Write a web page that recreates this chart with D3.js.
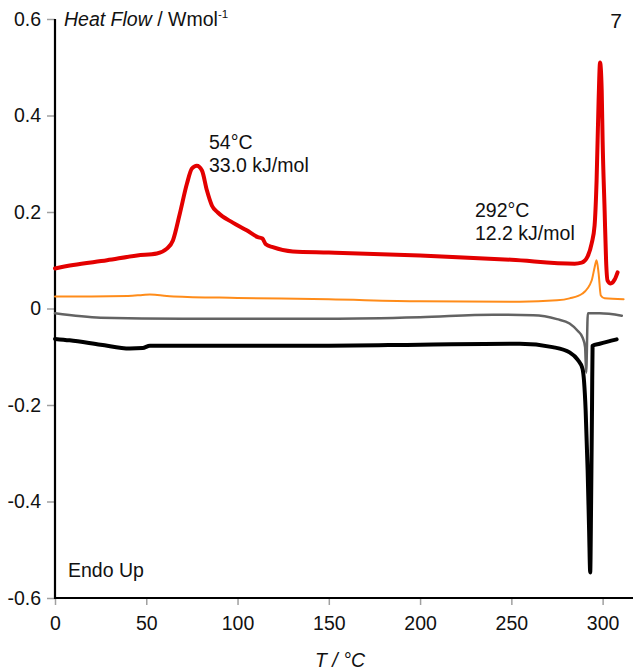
<!DOCTYPE html>
<html>
<head>
<meta charset="utf-8">
<script src="https://cdn.jsdelivr.net/npm/d3@7"></script>
<style>
  html, body { margin: 0; padding: 0; background: #fff; }
  svg { display: block; font-family: "Liberation Sans", Arial, sans-serif; }
</style>
</head>
<body>
<svg id="chart" width="633" height="672"></svg>
<script>
// ---- data (T in °C, heat flow in W/mol) ----
const xTicks = [0, 50, 100, 150, 200, 250, 300];
const yTicks = [-0.6, -0.4, -0.2, 0, 0.2, 0.4, 0.6];
const yTickLabels = ["-0.6", "-0.4", "-0.2", "0", "0.2", "0.4", "0.6"];

const redT = [0, 10, 28.5, 45, 55.8, 61.3, 64.6, 68.4, 72.3, 75, 77.7, 80.5, 83.2, 86, 89.2, 97.4, 105, 111.1, 113.6, 115.5, 119.3, 130.3, 150, 200, 250, 284.7, 288.5, 291.8, 294.0, 295.6, 296.7, 297.8, 298.6, 299.5, 300.0, 301.1, 301.9, 302.7, 304.4, 306.6, 308.2];
const redQ = [0.083, 0.090, 0.100, 0.110, 0.114, 0.124, 0.141, 0.197, 0.259, 0.290, 0.296, 0.286, 0.245, 0.213, 0.199, 0.178, 0.162, 0.148, 0.145, 0.133, 0.127, 0.118, 0.116, 0.110, 0.101, 0.093, 0.095, 0.108, 0.135, 0.172, 0.265, 0.431, 0.510, 0.452, 0.348, 0.203, 0.099, 0.058, 0.052, 0.060, 0.075];

const orangeT = [0, 20, 40, 48, 52, 56, 65, 100, 150, 200, 254.6, 275, 281.9, 289, 294, 295.6, 296.7, 297.8, 299.0, 301.1, 311.5];
const orangeQ = [0.025, 0.025, 0.026, 0.028, 0.029, 0.028, 0.025, 0.022, 0.019, 0.015, 0.014, 0.017, 0.021, 0.031, 0.058, 0.085, 0.100, 0.073, 0.027, 0.021, 0.019];

const grayT = [0, 25, 70, 150, 200, 240, 262, 275, 281.9, 286.3, 289.0, 290.4, 291.0, 291.9, 298.4, 310.5];
const grayQ = [-0.010, -0.019, -0.021, -0.021, -0.018, -0.013, -0.014, -0.022, -0.031, -0.046, -0.060, -0.080, -0.133, -0.010, -0.010, -0.015];

const blackT = [0, 8, 25, 41, 48, 52, 100, 150, 200, 254.6, 272.6, 281.9, 286.3, 289.0, 290.7, 291.8, 292.6, 293.2, 293.7, 294.2, 294.5, 298.4, 307.7];
const blackQ = [-0.063, -0.066, -0.075, -0.083, -0.082, -0.077, -0.077, -0.077, -0.075, -0.073, -0.080, -0.091, -0.106, -0.125, -0.211, -0.336, -0.460, -0.547, -0.400, -0.200, -0.077, -0.073, -0.064];

const series = [
  { name: "red",    T: redT,    Q: redQ,    color: "#e30000", width: 4 },
  { name: "orange", T: orangeT, Q: orangeQ, color: "#ff8c1a", width: 2 },
  { name: "black",  T: blackT,  Q: blackQ,  color: "#000000", width: 4 },
  { name: "gray",   T: grayT,   Q: grayQ,   color: "#636363", width: 2.5 }
];

// ---- layout ----
const FS = 19.5;
const svg = d3.select("#chart");
const x = d3.scaleLinear().domain([0, 315]).range([55, 630]);
const y = d3.scaleLinear().domain([-0.6, 0.6]).range([598, 19]);

// axes
const xAxis = d3.axisBottom(x).tickValues(xTicks).tickSize(7).tickFormat(d3.format("d"));
const yAxis = d3.axisLeft(y).tickValues(yTicks).tickSize(8)
  .tickFormat((d, i) => yTickLabels[i]);

const gx = svg.append("g").attr("transform", `translate(0,${y(-0.6)})`).call(xAxis);
gx.select(".domain").remove();
gx.selectAll(".tick line").attr("stroke", "#a0a0a0").attr("stroke-width", 1.5);
gx.selectAll(".tick text").attr("font-size", FS).attr("fill", "#111").attr("y", 14).attr("dy", "0.9em")
  .attr("font-family", "'Liberation Sans', Arial, sans-serif");

const gy = svg.append("g").attr("transform", `translate(${x(0)},0)`).call(yAxis);
gy.select(".domain").remove();
gy.selectAll(".tick line").attr("stroke", "#a0a0a0").attr("stroke-width", 1.5);
gy.selectAll(".tick text").attr("font-size", FS).attr("fill", "#111").attr("x", -14)
  .attr("font-family", "'Liberation Sans', Arial, sans-serif");

// axis lines
svg.append("line").attr("x1", x(0)).attr("x2", x(0)).attr("y1", y(0.6)).attr("y2", y(-0.6) + 1)
  .attr("stroke", "#000").attr("stroke-width", 2.2);
svg.append("line").attr("x1", x(0) - 1).attr("x2", 633).attr("y1", y(-0.6)).attr("y2", y(-0.6))
  .attr("stroke", "#000").attr("stroke-width", 2.2);

// curves
const line = d3.line().x(d => x(d[0])).y(d => y(d[1])).curve(d3.curveMonotoneX);
series.forEach(s => {
  const pts = s.T.map((t, i) => [t, s.Q[i]]);
  svg.append("path").datum(pts)
    .attr("d", line)
    .attr("fill", "none")
    .attr("stroke", s.color)
    .attr("stroke-width", s.width)
    .attr("stroke-linejoin", "round")
    .attr("stroke-linecap", "round");
});

// texts
const t1 = svg.append("text").attr("x", 64).attr("y", 26).attr("font-size", FS).attr("fill", "#111");
t1.append("tspan").attr("font-style", "italic").text("Heat Flow");
t1.append("tspan").text(" / Wmol");
t1.append("tspan").attr("font-size", 11.5).attr("dy", -8).text("-1");

svg.append("text").attr("x", 622).attr("y", 28).attr("text-anchor", "end").attr("font-size", 21)
  .attr("fill", "#111").text("7");

svg.append("text").attr("x", 209).attr("y", 149).attr("font-size", FS).attr("fill", "#111").text("54°C");
svg.append("text").attr("x", 209).attr("y", 172).attr("font-size", FS).attr("fill", "#111").text("33.0 kJ/mol");
svg.append("text").attr("x", 475).attr("y", 217).attr("font-size", FS).attr("fill", "#111").text("292°C");
svg.append("text").attr("x", 475).attr("y", 240).attr("font-size", FS).attr("fill", "#111").text("12.2 kJ/mol");

svg.append("text").attr("x", 68).attr("y", 577).attr("font-size", FS).attr("fill", "#111").text("Endo Up");

svg.append("text").attr("x", 340).attr("y", 667).attr("text-anchor", "middle").attr("font-size", FS)
  .attr("font-style", "italic").attr("fill", "#111").text("T / °C");
</script>
</body>
</html>
